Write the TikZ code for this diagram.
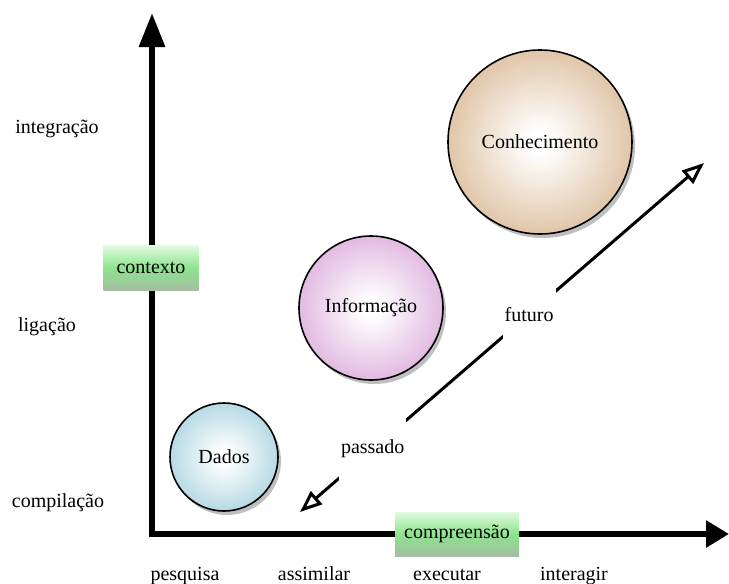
\documentclass[tikz,border=0pt]{standalone}
\usepackage{fontspec}
\setmainfont{Liberation Serif}
\usepackage{xcolor}
\usetikzlibrary{arrows.meta, shadows, positioning}

\definecolor{dadosblue}{RGB}{140,196,212}
\definecolor{infopink}{RGB}{208,146,208}
\definecolor{conhtan}{RGB}{206,164,118}
\definecolor{boxtop}{RGB}{225,250,225}
\definecolor{boxmid}{RGB}{140,228,140}
\definecolor{boxbot}{RGB}{165,188,165}

\pgfdeclareradialshading[ballrim]{ballshade}{\pgfpoint{0bp}{0bp}}{color(0bp)=(white); color(3bp)=(white); color(38bp)=(ballrim); color(50bp)=(ballrim!90!black)}

\tikzset{
    ball/.style 2 args={circle, draw, line width=1.6pt, minimum size=#1, inner sep=0pt, /utils/exec={\colorlet{ballrim}{#2}}, shading=ballshade, drop shadow={shadow xshift=3pt, shadow yshift=-4pt, opacity=0.5}},
    greenbox/.style={rectangle, top color=boxtop, bottom color=boxbot, middle color=boxmid, minimum height=44pt, inner sep=0pt},
    lbl/.style={anchor=base, inner sep=0pt},
    tag/.style={fill=white, inner xsep=2pt, minimum height=64pt},
    axis/.style={line width=6pt, {Triangle[length=34pt, width=25pt]}-{Triangle[length=23pt, width=26pt]}},
    timeline/.style={line width=3pt, {Triangle[open, length=22pt, width=17pt]}-{Triangle[open, length=22pt, width=17pt]}}
}

\begin{document}
\begin{tikzpicture}[x=1pt, y=-1pt, font=\fontsize{20}{24}\selectfont]
    \useasboundingbox (0,0) rectangle (729,584);
    % Axis ends
    \coordinate (origin) at (152,534);
    \coordinate (ytop) at (152,13);
    \coordinate (xend) at (729,534);
    \coordinate (past) at (300,512);
    \coordinate (future) at (704,163);

    % Draw axes
    \draw [axis] (ytop) -- (origin) -- (xend);

    % Place nodes
    \node [greenbox, minimum width=95pt, minimum height=45pt] (context) at (151,268) {contexto};
    \node [greenbox, minimum width=124pt] (comprehension) at (457,534) {compreensão};
    \node [ball={108pt}{dadosblue}] (data) at (224,457) {Dados};
    \node [ball={144pt}{infopink}] (info) at (371,308) {Informação};
    \node [ball={184pt}{conhtan}] (knowledge) at (540,142) {Conhecimento};

    % Axis labels
    \node [lbl] (integration) at (57,133) {integração};
    \node [lbl] (linking) at (47,331) {ligação};
    \node [lbl] (compilation) at (58,507) {compilação};
    \node [lbl] (research) at (185,580) {pesquisa};
    \node [lbl] (assimilate) at (314,580) {assimilar};
    \node [lbl] (execute) at (447,580) {executar};
    \node [lbl] (interact) at (574,580) {interagir};

    % Draw time line
    \draw [timeline] (past) -- node [tag, pos=0.18] (pastlbl) {passado} node [tag, pos=0.567] (futurelbl) {futuro} (future);
\end{tikzpicture}
\end{document}
